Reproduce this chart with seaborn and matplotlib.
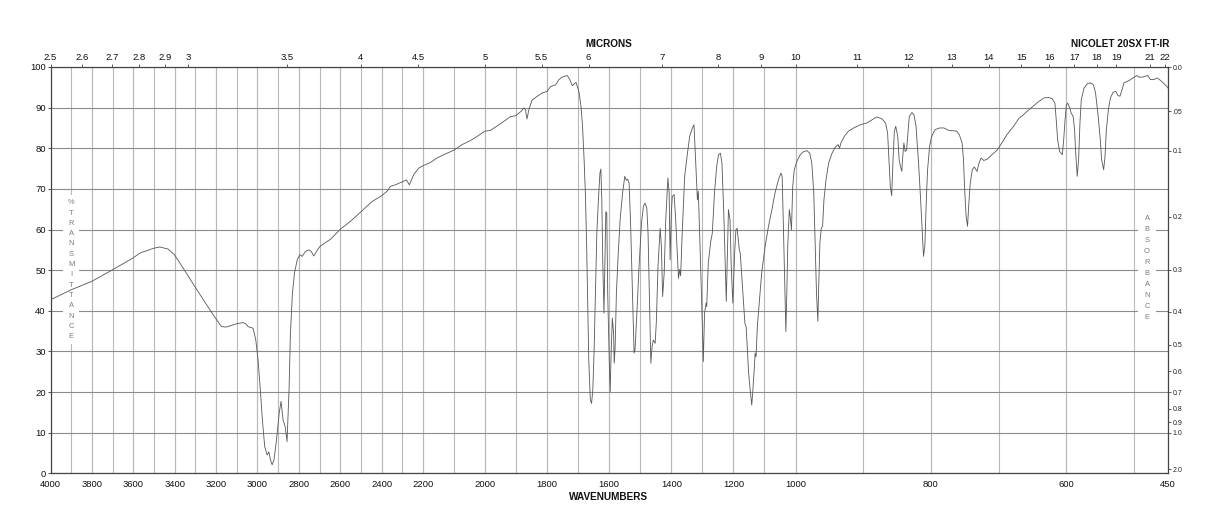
import numpy as np
import pandas as pd
import matplotlib
matplotlib.use("Agg")
import matplotlib.pyplot as plt
from matplotlib.patches import Rectangle
import seaborn as sns

# ---------------- data ----------------
wavenumber = [
    4000, 3899, 3802, 3700, 3601, 3568, 3501, 3472, 3432, 3401, 3359, 3303, 3246, 3203,
    3174, 3150, 3101, 3069, 3056, 3045, 3021, 3008, 2997, 2986, 2976, 2965, 2953, 2945,
    2937, 2929, 2920, 2908, 2895, 2886, 2876, 2866, 2857, 2847, 2841, 2831, 2821, 2808,
    2795, 2784, 2768, 2752, 2740, 2728, 2712, 2699, 2671, 2647, 2599, 2551, 2499, 2446,
    2406, 2374, 2358, 2334, 2306, 2280, 2266, 2245, 2221, 2200, 2176, 2155, 2128, 2101,
    2074, 2047, 2026, 2001, 1983, 1961, 1940, 1918, 1901, 1884, 1875, 1870, 1865, 1859,
    1849, 1832, 1816, 1800, 1789, 1773, 1762, 1752, 1735, 1727, 1719, 1712, 1707, 1701,
    1697, 1691, 1686, 1681, 1677, 1673, 1670, 1666, 1661, 1657, 1653, 1649, 1644, 1640,
    1635, 1630, 1627, 1624, 1621, 1617, 1614, 1611, 1608, 1605, 1600, 1597, 1594, 1590,
    1586, 1584, 1581, 1577, 1571, 1565, 1557, 1550, 1545, 1541, 1536, 1531, 1525, 1520,
    1517, 1511, 1504, 1496, 1490, 1485, 1479, 1475, 1471, 1466, 1462, 1458, 1452, 1448,
    1443, 1436, 1432, 1428, 1423, 1418, 1411, 1407, 1404, 1400, 1397, 1391, 1386, 1381,
    1377, 1373, 1370, 1365, 1357, 1348, 1341, 1332, 1327, 1322, 1316, 1313, 1308, 1303,
    1297, 1293, 1288, 1286, 1281, 1273, 1268, 1261, 1254, 1248, 1242, 1237, 1231, 1226,
    1223, 1220, 1216, 1211, 1207, 1202, 1196, 1192, 1188, 1181, 1178, 1173, 1168, 1163,
    1159, 1155, 1151, 1146, 1141, 1138, 1133, 1130, 1127, 1123, 1116, 1109, 1098, 1087,
    1076, 1066, 1055, 1047, 1043, 1039, 1034, 1031, 1028, 1025, 1020, 1017, 1013, 1009,
    1004, 998, 993, 988, 983, 979, 976, 973, 971, 969, 967, 966, 964, 962, 960, 958,
    955, 951, 946, 941, 937, 935, 933, 928, 922, 914, 904, 895, 887, 880, 872, 867,
    864, 862, 860, 858, 856, 854, 852, 849, 847, 845, 843, 842, 840, 838, 836, 834,
    832, 828, 825, 822, 818, 815, 813, 811, 809, 807, 805, 802, 799, 794, 787, 781,
    774, 766, 762, 758, 754, 752, 750, 748, 746, 744, 742, 739, 736, 732, 729, 726,
    722, 717, 710, 702, 695, 688, 678, 670, 665, 658, 648, 641, 633, 626, 621, 617,
    615, 613, 610, 608, 606, 604, 602, 600, 598, 595, 593, 590, 588, 586, 584, 582,
    580, 578, 574, 569, 564, 560, 557, 553, 550, 548, 545, 543, 541, 538, 535, 531,
    527, 524, 521, 518, 515, 507, 500, 496, 493, 488, 484, 480, 476, 471, 466, 461,
    456, 451, 450,
]
transmittance = [
    42.7, 45.2, 47.2, 50.1, 53.0, 54.2, 55.4, 55.7, 55.2, 53.8, 50.5, 46.0, 41.5, 38.2,
    36.1, 36.0, 36.8, 37.1, 36.8, 36.1, 35.7, 32.8, 27.9, 20.5, 13.1, 6.6, 4.5, 5.3,
    3.3, 2.1, 3.3, 8.2, 14.8, 17.7, 13.1, 11.5, 7.8, 21.0, 34.0, 44.3, 49.3, 52.5,
    53.8, 53.4, 54.6, 55.0, 54.6, 53.5, 54.8, 55.8, 56.8, 57.6, 60.1, 62.0, 64.4, 66.9,
    68.1, 69.4, 70.6, 71.0, 71.6, 72.2, 71.0, 73.5, 75.1, 75.7, 76.5, 77.6, 78.6, 79.5,
    80.9, 81.9, 82.9, 84.2, 84.4, 85.5, 86.6, 87.8, 88.0, 89.1, 89.9, 89.5, 87.2, 89.5,
    91.8, 92.8, 93.6, 94.0, 95.2, 95.6, 96.9, 97.5, 97.9, 96.9, 95.4, 95.9, 96.2, 94.8,
    93.6, 90.3, 85.4, 77.2, 69.0, 56.7, 44.3, 27.9, 18.1, 17.2, 20.5, 29.6, 46.0, 59.1,
    67.3, 73.9, 74.9, 67.3, 52.5, 39.4, 52.5, 64.4, 64.0, 44.3, 27.9, 20.1, 29.6, 38.2,
    34.5, 27.1, 31.2, 44.3, 54.2, 62.4, 69.0, 73.1, 72.1, 72.4, 71.4, 60.8, 44.3, 29.6,
    30.4, 39.4, 50.9, 61.6, 65.7, 66.5, 65.3, 59.1, 44.3, 27.1, 31.2, 32.8, 32.0, 37.8,
    50.9, 60.3, 55.8, 43.5, 49.3, 62.4, 72.7, 69.0, 52.5, 64.0, 68.1, 68.6, 62.4, 54.2,
    48.0, 50.2, 48.6, 59.1, 73.1, 78.8, 82.9, 85.0, 85.8, 77.2, 67.3, 69.4, 56.7, 44.3,
    27.5, 39.4, 41.9, 41.1, 51.7, 57.1, 59.1, 69.0, 75.5, 78.4, 78.8, 76.4, 64.0, 50.9,
    42.3, 52.5, 64.9, 62.4, 50.9, 41.9, 54.2, 59.9, 60.3, 55.0, 54.2, 48.4, 42.7, 36.9,
    36.1, 30.4, 24.6, 20.5, 16.8, 19.7, 25.5, 29.6, 28.7, 36.1, 42.7, 49.3, 55.8, 60.8,
    64.9, 69.0, 72.2, 73.9, 73.1, 60.8, 44.3, 34.9, 44.3, 55.8, 64.9, 63.2, 59.9, 70.6,
    74.7, 76.8, 78.4, 79.2, 79.4, 78.8, 76.4, 69.0, 56.7, 44.3, 37.4, 44.3, 56.7, 60.3, 60.8, 67.3,
    72.2, 76.4, 78.8, 80.3, 80.9, 80.0, 81.3, 82.9, 84.2, 85.0, 85.8, 86.2, 87.0, 87.7, 87.2, 86.2,
    83.7, 77.2, 70.6, 68.3, 77.2, 84.2, 85.4, 82.9, 77.2, 75.5, 74.3, 77.2, 81.3, 79.2, 79.6, 83.7,
    87.8, 88.8, 88.2, 85.4, 75.5, 66.5, 59.9, 53.4, 56.0, 66.5, 74.7, 80.5, 82.9, 84.6, 85.0, 85.0,
    84.4, 84.3, 84.2, 83.3, 81.3, 77.2, 69.0, 63.2, 60.8, 66.5, 71.4, 74.7, 75.4, 74.3, 76.4, 77.6,
    77.0, 77.3, 78.4, 79.6, 81.4, 83.3, 85.4, 87.4, 88.0, 89.1, 90.5, 91.5, 92.4, 92.5, 92.2, 91.1,
    87.0, 82.1, 79.2, 78.8, 78.4, 82.1, 87.0, 90.7, 91.1, 89.9, 88.7, 87.8, 84.6, 78.0, 73.1, 77.2,
    86.2, 92.0, 94.8, 95.9, 96.1, 95.6, 93.6, 87.8, 82.1, 77.2, 74.7, 78.0, 84.6, 89.5, 92.4, 93.8,
    94.0, 93.0, 92.8, 94.3, 96.1, 96.7, 97.5, 97.9, 97.5, 97.5, 97.7, 97.9, 96.9, 96.9, 97.3, 96.7,
    95.9, 95.1, 94.8,
]

bottom_ticks = [4000, 3800, 3600, 3400, 3200, 3000, 2800, 2600, 2400, 2200,
                2000, 1800, 1600, 1400, 1200, 1000, 800, 600, 450]
micron_ticks = [2.5, 2.6, 2.7, 2.8, 2.9, 3, 3.5, 4, 4.5, 5, 5.5, 6, 7, 8, 9, 10,
                11, 12, 13, 14, 15, 16, 17, 18, 19, 21, 22]
micron_labels = ["2.5", "2.6", "2.7", "2.8", "2.9", "3", "3.5", "4", "4.5", "5", "5.5",
                 "6", "7", "8", "9", "10", "11", "12", "13", "14", "15", "16", "17",
                 "18", "19", "21", "22"]
absorbance_ticks = [0.0, 0.05, 0.1, 0.2, 0.3, 0.4, 0.5, 0.6, 0.7, 0.8, 0.9, 1.0, 2.0]
absorbance_labels = ["0.0", ".05", "0.1", "0.2", "0.3", "0.4", "0.5", "0.6", "0.7",
                     "0.8", "0.9", "1.0", "2.0"]
transmittance_ticks = [0, 10, 20, 30, 40, 50, 60, 70, 80, 90, 100]

df = pd.DataFrame({"wavenumber": wavenumber, "T": transmittance})

# ---------------- style ----------------
sns.set_theme(style="ticks")
plt.rcParams["font.family"] = ["Liberation Sans", "DejaVu Sans"]

# 3-segment wavenumber axis (4000-2200, 2200-1000, 1000-450 equal widths)
def fwd(w):
    w = np.asarray(w, dtype=float)
    return np.where(w < 1000, (w - 450) / 550.0,
                    np.where(w < 2200, 1 + (w - 1000) / 1200.0, 2 + (w - 2200) / 1800.0))

def inv(u):
    u = np.asarray(u, dtype=float)
    return np.where(u < 1, 450 + u * 550.0,
                    np.where(u < 2, 1000 + (u - 1) * 1200.0, 2200 + (u - 2) * 1800.0))

W, H = 1218, 528
fig = plt.figure(figsize=(W / 100, H / 100), dpi=100)
left, right, top, bottom = 50.5, 1168, 67, 473.3
ax = fig.add_axes([left / W, 1 - bottom / H, (right - left) / W, (bottom - top) / H])

sns.lineplot(data=df, x="wavenumber", y="T", ax=ax, sort=False, estimator=None,
             color="#5a5a5a", linewidth=0.62, zorder=4)

ax.set_xscale("function", functions=(fwd, inv))
ax.set_xlim(4000, 450)
ax.set_ylim(0, 100)
ax.set_xlabel("")
ax.set_ylabel("")

ax.set_xticks(bottom_ticks)
ax.set_xticklabels([str(t) for t in bottom_ticks])
ax.set_xticks(list(range(3900, 450, -100)), minor=True)
ax.xaxis.remove_overlapping_locs = False
ax.set_yticks(transmittance_ticks)
ax.set_yticklabels([str(t) for t in transmittance_ticks])
ax.set_axisbelow(True)
ax.grid(axis="x", which="both", color="#b8b8b8", linewidth=0.8)
ax.grid(axis="y", which="major", color="#8c8c8c", linewidth=0.8)
ax.tick_params(axis="x", which="both", length=0, pad=4.5, labelsize=6.8, colors="#222222")
ax.tick_params(axis="x", which="major", labelcolor="#111111")
ax.tick_params(axis="y", which="major", length=2.2, width=0.6, pad=1.2, labelsize=6.8,
               direction="out", colors="#333333", labelcolor="#111111")
for s in ax.spines.values():
    s.set_color("#444444")
    s.set_linewidth(0.9)

# top micron axis
axt = ax.twiny()
axt.set_xscale("function", functions=(fwd, inv))
axt.set_xlim(4000, 450)
axt.set_xticks([10000.0 / m for m in micron_ticks])
axt.set_xticklabels(micron_labels)
axt.xaxis.remove_overlapping_locs = False
axt.tick_params(axis="x", length=2.2, width=0.6, pad=1.3, labelsize=6.8,
                direction="out", colors="#444444", labelcolor="#111111")
axt.set_xticks([], minor=True)
for s in axt.spines.values():
    s.set_visible(False)

# right absorbance axis
axr = ax.twinx()
axr.set_ylim(0, 100)
axr.set_yticks([100 * 10 ** (-a) for a in absorbance_ticks])
axr.set_yticklabels(absorbance_labels)
axr.tick_params(axis="y", length=2.2, width=0.6, pad=1.0, labelsize=5,
                direction="out", colors="#444444", labelcolor="#222222")
axr.set_yticks([], minor=True)
for s in axr.spines.values():
    s.set_visible(False)

# stacked side labels with white backing
ax.add_patch(Rectangle((3939, 31.8), 3861 - 3939, 68.6 - 31.8, facecolor="white",
                       edgecolor="none", zorder=1))
for i, ch in enumerate("%TRANSMITTANCE"):
    ax.text(3900, 66.6 - i * 2.54, ch, ha="center", va="center", fontsize=5.4,
            color="#7a7a7a", zorder=2)
ax.add_patch(Rectangle((494, 36.4), 468 - 494, 64.6 - 36.4, facecolor="white",
                       edgecolor="none", zorder=1))
for i, ch in enumerate("ABSORBANCE"):
    ax.text(481, 62.6 - i * 2.7, ch, ha="center", va="center", fontsize=5.4,
            color="#7a7a7a", zorder=2)

fig.text(609 / W, 1 - 44.3 / H, "MICRONS", ha="center", va="center",
         fontsize=7.2, fontweight="bold", color="#111111")
fig.text(1120 / W, 1 - 44.3 / H, "NICOLET 20SX FT-IR", ha="center", va="center",
         fontsize=7.2, fontweight="bold", color="#111111")
fig.text(609 / W, 1 - 497 / H, "WAVENUMBERS", ha="center", va="center",
         fontsize=7.2, fontweight="bold", color="#111111")

fig.savefig("out.png", dpi=100, facecolor="white")
